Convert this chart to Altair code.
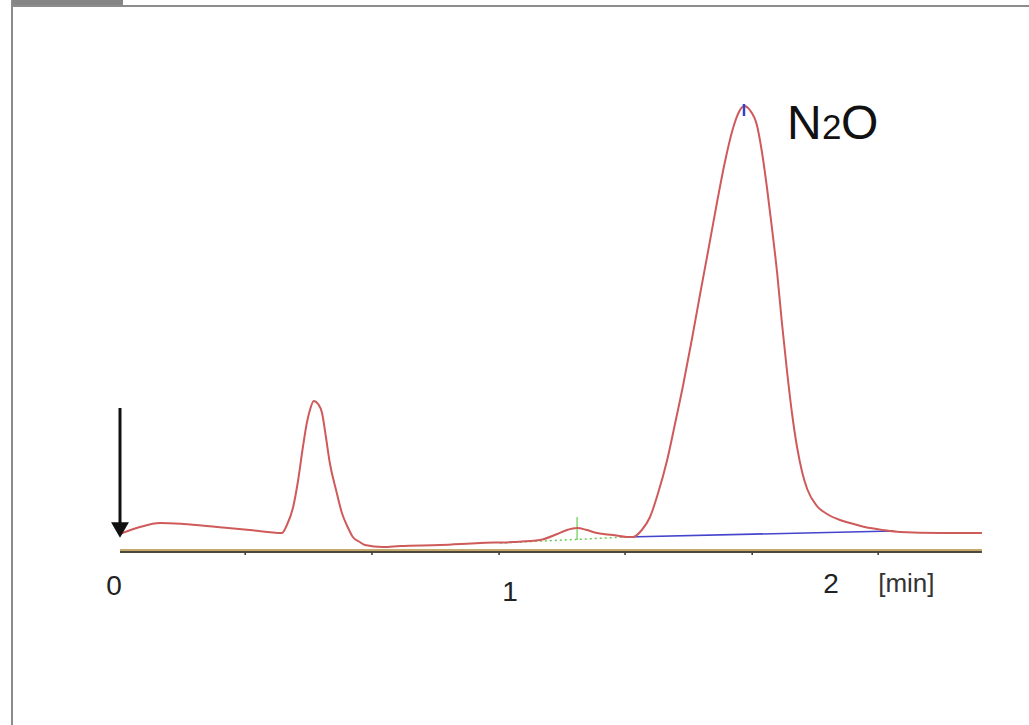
import altair as alt
import pandas as pd

# ---- chromatogram trace: retention time [min] and detector signal (arb. units)
time_min = [0.000, 0.013, 0.051, 0.103, 0.162, 0.249, 0.333, 0.415, 0.428, 0.444,
            0.456, 0.469, 0.479, 0.487, 0.497, 0.508, 0.518, 0.528, 0.538, 0.554,
            0.569, 0.585, 0.597, 0.615, 0.628, 0.674, 0.718, 0.821, 0.923, 1.008,
            1.077, 1.121, 1.146, 1.172, 1.197, 1.223, 1.264, 1.300, 1.315, 1.338,
            1.359, 1.379, 1.403, 1.423, 1.444, 1.467, 1.487, 1.508, 1.531, 1.551,
            1.572, 1.587, 1.600, 1.615, 1.633, 1.646, 1.659, 1.672, 1.685, 1.697,
            1.710, 1.723, 1.736, 1.749, 1.762, 1.787, 1.813, 1.846, 1.872, 1.910,
            1.956, 2.000, 2.103, 2.210]
signal = [17, 19, 24, 28, 27, 24, 21, 18, 26, 44,
          69, 104, 128, 141, 150, 147, 138, 114, 88, 61,
          38, 23, 14, 9, 6, 4, 5, 6, 8, 9,
          11, 17, 21, 23, 21, 18, 16, 14, 14, 21,
          34, 57, 91, 127, 166, 213, 256, 300, 349, 389,
          423, 439, 445, 441, 426, 399, 363, 322, 278, 229,
          181, 138, 104, 79, 62, 45, 37, 31, 28, 24,
          21, 19, 18, 18]

# integration baselines
small_base_t = [0.974, 1.300]
small_base_s = [8, 14]
main_base_t = [1.300, 1.982]
main_base_s = [14, 20]
small_peak_t = 1.172
small_peak_mark = [34, 11]
main_peak_t = 1.600
main_peak_mark = [447, 435]

# injection arrow
arrow_t = 0.0
arrow_s = [143, 28]

# time axis
axis_start, axis_end = 0.0, 2.210
minor_ticks = [0.321, 0.646, 0.972, 1.295, 1.621, 1.944]
tick_labels = ["0", "1", "2"]
tick_label_t = [-0.015, 1.0, 1.823]
unit_label = "[min]"
unit_label_t = 1.944

# ---- layout (pixel mapping of the data scales)
W, H = 1029, 725
X0, PX_PER_MIN = 120.0, 390.0
Y0 = 551.0
xs = alt.Scale(domain=[(0 - X0) / PX_PER_MIN, (W - X0) / PX_PER_MIN], nice=False, zero=False)
ys = alt.Scale(domain=[Y0 - H, Y0], nice=False, zero=False)

X = lambda f: alt.X(f, type="quantitative", scale=xs, axis=None)
Y = lambda f: alt.Y(f, type="quantitative", scale=ys, axis=None)
one = pd.DataFrame({"a": [0]})

trace = pd.DataFrame({"t": time_min, "s": signal})
layers = []

# frame decorations
layers.append(alt.Chart(one).mark_rect(color="#858585").encode(
    x=alt.value(11), x2=alt.value(123), y=alt.value(0), y2=alt.value(7)))
layers.append(alt.Chart(one).mark_rule(color="#8c8c8c", strokeWidth=2).encode(
    x=alt.value(11), x2=alt.value(W), y=alt.value(6)))
layers.append(alt.Chart(one).mark_rule(color="#8c8c8c", strokeWidth=2).encode(
    x=alt.value(12), y=alt.value(0), y2=alt.value(H)))

# time axis line (two tone) and minor ticks
ax = pd.DataFrame({"t": [axis_start], "t2": [axis_end]})
layers.append(alt.Chart(ax).mark_rule(color="#c4a86c", strokeWidth=2).encode(
    x=X("t"), x2="t2", y=alt.Y(datum=1, type="quantitative", scale=ys, axis=None)))
layers.append(alt.Chart(ax).mark_rule(color="#4e473c", strokeWidth=2).encode(
    x=X("t"), x2="t2", y=alt.Y(datum=-1, type="quantitative", scale=ys, axis=None)))
tk = pd.DataFrame({"t": minor_ticks, "s1": [-1.5] * len(minor_ticks), "s2": [-4] * len(minor_ticks)})
layers.append(alt.Chart(tk).mark_rule(color="#333333", strokeWidth=1.5).encode(
    x=X("t"), y=Y("s1"), y2="s2"))

# tick labels
label_baselines = [-44, -50, -42]
for lab, t, b in zip(tick_labels, tick_label_t, label_baselines):
    d = pd.DataFrame({"t": [t], "s": [b], "lab": [lab]})
    layers.append(alt.Chart(d).mark_text(font="Liberation Sans", fontSize=28, color="#222222",
                                         align="center", baseline="alphabetic").encode(
        x=X("t"), y=Y("s"), text="lab:N"))
d = pd.DataFrame({"t": [unit_label_t], "s": [-41], "lab": [unit_label]})
layers.append(alt.Chart(d).mark_text(font="Liberation Sans", fontSize=26, color="#333333",
                                     align="left", baseline="alphabetic").encode(
    x=X("t"), y=Y("s"), text="lab:N"))

# integration baselines and markers
gb = pd.DataFrame({"t": small_base_t, "s": small_base_s})
layers.append(alt.Chart(gb).mark_line(color="#66cc55", strokeWidth=1.5, strokeDash=[2, 3]).encode(
    x=X("t"), y=Y("s")))
gm = pd.DataFrame({"t": [small_peak_t], "s1": [small_peak_mark[0]], "s2": [small_peak_mark[1]]})
layers.append(alt.Chart(gm).mark_rule(color="#66cc55", strokeWidth=1.2).encode(
    x=X("t"), y=Y("s1"), y2="s2"))
bb = pd.DataFrame({"t": main_base_t, "s": main_base_s})
layers.append(alt.Chart(bb).mark_line(color="#4444cc", strokeWidth=1.6).encode(
    x=X("t"), y=Y("s")))

# trace
layers.append(alt.Chart(trace).mark_line(color="#cf5a5a", strokeWidth=2, interpolate="monotone").encode(
    x=X("t"), y=Y("s")))

bm = pd.DataFrame({"t": [main_peak_t], "s1": [main_peak_mark[0]], "s2": [main_peak_mark[1]]})
layers.append(alt.Chart(bm).mark_rule(color="#3344cc", strokeWidth=2.5).encode(
    x=X("t"), y=Y("s1"), y2="s2"))

# injection arrow
ar = pd.DataFrame({"t": [arrow_t], "s1": [arrow_s[0]], "s2": [arrow_s[1]]})
layers.append(alt.Chart(ar).mark_rule(color="#111111", strokeWidth=3).encode(
    x=X("t"), y=Y("s1"), y2="s2"))
ah = pd.DataFrame({"t": [arrow_t], "s": [arrow_s[1] - 7]})
layers.append(alt.Chart(ah).mark_point(shape="triangle-down", filled=True, color="#111111",
                                       size=320, opacity=1, strokeWidth=0).encode(
    x=X("t"), y=Y("s")))

# compound label N2O
for txt, t, fs in [("N", 1.710, 48), ("2", 1.800, 35), ("O", 1.849, 48)]:
    d = pd.DataFrame({"t": [t], "s": [412], "lab": [txt]})
    layers.append(alt.Chart(d).mark_text(font="Liberation Sans", fontSize=fs, color="#111111",
                                         align="left", baseline="alphabetic").encode(
        x=X("t"), y=Y("s"), text="lab:N"))

chart = alt.layer(*layers).properties(
    width=W, height=H, padding=0, autosize=alt.AutoSizeParams(type="none"),
    background="white"
).configure_view(stroke=None)

chart.save("out.html", embed_options={"renderer": "svg", "actions": False})
